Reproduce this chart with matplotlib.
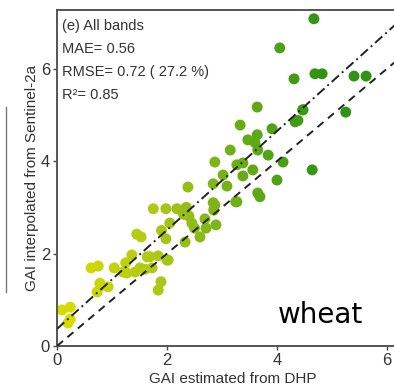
import numpy as np
import matplotlib
matplotlib.use("Agg")
import matplotlib.pyplot as plt
from matplotlib.colors import LinearSegmentedColormap
from matplotlib.lines import Line2D

plt.rcParams['font.family'] = ['Liberation Sans', 'DejaVu Sans']

# GAI from DHP (x) and GAI from Sentinel-2a (y)
gai_dhp = [0.09, 0.24, 0.24, 0.20, 0.62, 0.75, 0.73, 0.78, 0.93, 1.04,
           1.25, 1.36, 1.27, 1.42, 1.51, 1.60, 1.73, 1.69, 1.84, 2.00,
           1.89, 1.84, 1.45, 1.53, 1.75, 1.98, 2.18, 2.35, 1.98, 2.33,
           2.45, 2.50, 3.02, 2.84, 3.09, 2.38, 3.25, 2.40, 2.84, 2.85,
           2.69, 2.71, 2.89, 2.60, 1.90, 2.05, 3.64, 4.47, 4.33, 4.38,
           3.33, 3.91, 3.47, 3.64, 3.60, 3.65, 3.15, 3.84, 4.11, 2.87,
           3.27, 3.38, 3.56, 3.38, 4.00, 4.64, 3.65, 3.69, 3.27, 2.87,
           4.67, 4.05, 4.31, 4.69, 4.82, 5.40, 5.62, 4.47, 5.25, 2.30,
           1.64, 2.02, 1.20, 0.80]
gai_s2 = [0.78, 0.84, 0.58, 0.50, 1.69, 1.73, 1.17, 1.36, 1.28, 1.69,
          1.80, 1.97, 1.58, 1.60, 1.69, 1.66, 1.69, 1.93, 1.95, 1.86,
          1.39, 1.21, 2.42, 2.36, 2.97, 2.97, 2.97, 3.00, 2.32, 2.25,
          2.66, 2.55, 3.70, 3.51, 3.46, 3.44, 3.12, 2.81, 3.10, 2.94,
          2.75, 2.55, 2.62, 2.36, 2.50, 2.66, 5.17, 5.11, 4.85, 4.88,
          4.78, 4.70, 4.46, 4.57, 4.40, 4.24, 4.24, 4.13, 3.98, 3.98,
          3.92, 3.96, 3.81, 3.68, 3.59, 3.81, 3.31, 3.23, 3.12, 3.05,
          7.08, 6.45, 5.78, 5.89, 5.89, 5.84, 5.84, 5.11, 5.06, 2.85,
          1.93, 1.86, 1.60, 1.30]

fit_slope = 1.07
fit_intercept = 0.37

stats = ["(e) All bands", "MAE= 0.56", "RMSE= 0.72 ( 27.2 %)", "R\u00b2= 0.85"]

x = np.array(gai_dhp)
y = np.array(gai_s2)

cmap = LinearSegmentedColormap.from_list("gai", ["#d6dc00", "#aec816", "#6aae16", "#2f9412"])

fig = plt.figure(figsize=(3.94, 3.88), dpi=100)
ax = fig.add_axes([57/394, 42/388, 352/394, 336/388])

ax.scatter(x, y, c=x, cmap=cmap, vmin=0.3, vmax=4.8, s=62, edgecolors='none', zorder=2)

xx = np.array([0, 6.4])
ax.plot(xx, xx, color='#222222', lw=1.4, ls=(0, (4, 3)), zorder=3)
ax.plot(xx, fit_slope*xx + fit_intercept, color='#222222', lw=1.4, ls=(0, (5, 2, 1, 2)), zorder=3)

ax.set_xlim(0, 6.4)
ax.set_ylim(0, 7.27)
ax.set_xticks([0, 2, 4, 6])
ax.set_yticks([0, 2, 4, 6])
ax.tick_params(labelsize=12, length=3, width=1, colors='#444444', labelcolor='#333333', pad=2)
for s in ax.spines.values():
    s.set_color('#555555')
    s.set_linewidth(1.4)

ax.set_xlabel("GAI estimated from DHP", fontsize=11, color='#333333', labelpad=3)
ax.set_ylabel("GAI interpolated from Sentinel-2a", fontsize=11, color='#333333', labelpad=1)

for i, t in enumerate(stats):
    ax.text(62/394, 1 - (26 + i*23)/388, t, transform=fig.transFigure,
            fontsize=10.5, color='#333333', va='center', ha='left')

fig.text(278/394, 1 - 323/388, "wheat", fontsize=20, family='DejaVu Sans',
         color='black', va='baseline', ha='left')

fig.add_artist(Line2D([6/394, 6/394], [1 - 107/388, 1 - 292/388], color='#777777', lw=1))

fig.savefig("out.png", dpi=100)
